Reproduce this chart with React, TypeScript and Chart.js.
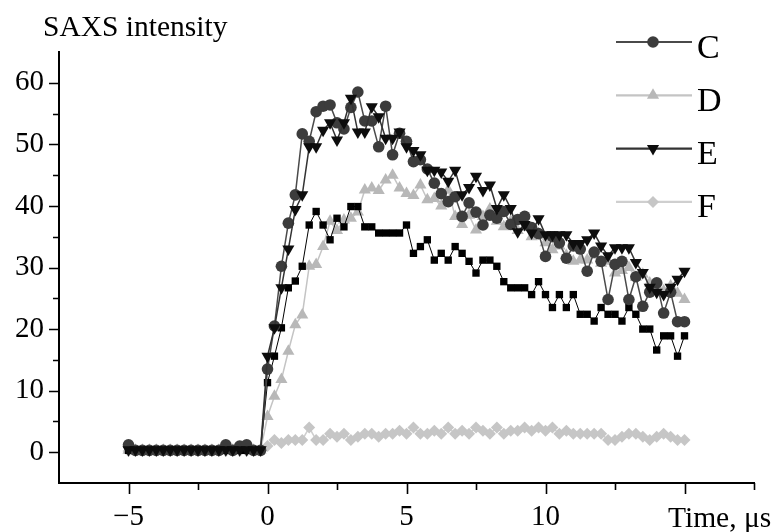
import React, { useEffect, useRef } from 'react';
import { Chart, registerables } from 'chart.js';
import { drawPoint } from 'chart.js/helpers';

Chart.register(...registerables);

const FONT = "'Liberation Serif', 'Times New Roman', Times, serif";

// time axis (µs)
const times = [
  -5, -4.75, -4.5, -4.25, -4, -3.75, -3.5, -3.25, -3, -2.75, -2.5, -2.25, -2, -1.75, -1.5, -1.25, -1, -0.75, -0.5, -0.25,
  0, 0.25, 0.5, 0.75, 1, 1.25, 1.5, 1.75, 2, 2.25, 2.5, 2.75, 3, 3.25, 3.5, 3.75, 4, 4.25, 4.5, 4.75,
  5, 5.25, 5.5, 5.75, 6, 6.25, 6.5, 6.75, 7, 7.25, 7.5, 7.75, 8, 8.25, 8.5, 8.75, 9, 9.25, 9.5, 9.75,
  10, 10.25, 10.5, 10.75, 11, 11.25, 11.5, 11.75, 12, 12.25, 12.5, 12.75, 13, 13.25, 13.5, 13.75, 14, 14.25, 14.5, 14.75, 15,
];

const seriesC = [
  1.2, 0.3, 0.3, 0.3, 0.3, 0.3, 0.3, 0.3, 0.3, 0.3, 0.3, 0.3, 0.3, 0.3, 1.2, 0.3, 1.0, 1.2, 0.3, 0.3,
  13.5, 20.5, 30.2, 37.2, 41.8, 51.7, 50.5, 55.3, 56.2, 56.4, 53.5, 52.5, 56.0, 58.5, 53.8, 53.8, 49.6, 56.2, 48.3, 51.8,
  50.5, 47.2, 47.5, 46.0, 43.7, 42.0, 40.7, 41.5, 38.3, 40.5, 39.0, 36.9, 38.5, 38.0, 39.1, 37.0, 37.8, 38.3, 36.5, 35.5,
  31.8, 35.0, 34.0, 31.5, 33.5, 33.0, 29.4, 32.5, 31.0, 24.8, 30.5, 31.0, 24.8, 28.5, 23.7, 26.0, 27.5, 22.6, 26.0, 21.2, 21.2,
];

const seriesD = [
  0.3, 0.3, 0.3, 0.3, 0.3, 0.3, 0.3, 0.3, 0.3, 0.3, 0.3, 0.3, 0.3, 0.3, 0.3, 0.3, 0.3, 0.3, 0.3, 0.3,
  5.8, 9.1, 11.8, 16.4, 20.7, 22.3, 30.2, 30.5, 33.4, 37.5, 36.0, 37.7, 38.0, 39.0, 42.6, 42.9, 42.5, 44.2, 45.0, 42.9,
  42.0, 41.7, 43.4, 41.0, 41.2, 40.0, 42.6, 38.3, 37.0, 38.5, 36.1, 38.3, 39.5, 37.5, 36.6, 37.5, 36.0, 36.5, 35.0, 35.5,
  34.0, 32.9, 33.5, 32.0, 31.0, 31.2, 31.2, 32.0, 30.7, 31.0, 29.1, 29.5, 30.0, 28.4, 28.9, 27.5, 27.0, 26.2, 27.0, 25.8, 24.8,
];

const seriesE = [
  0.4, 0.4, 0.4, 0.4, 0.4, 0.4, 0.4, 0.4, 0.4, 0.4, 0.4, 0.4, 0.4, 0.4, 0.4, 0.4, 0.4, 0.4, 0.4, 0.4,
  15.6, 20.2, 26.7, 33.0, 39.4, 41.8, 49.6, 49.6, 52.3, 53.5, 50.7, 53.5, 57.5, 52.0, 52.0, 56.1, 54.5, 51.0, 51.0, 52.0,
  49.6, 49.0, 48.3, 45.8, 45.8, 45.5, 44.0, 45.8, 41.8, 43.0, 44.8, 42.5, 43.4, 39.6, 41.8, 39.6, 35.8, 37.0, 35.6, 37.9,
  35.3, 35.3, 35.3, 35.3, 33.9, 33.9, 34.5, 35.6, 33.5, 31.9, 33.2, 33.2, 33.2, 30.8, 29.2, 26.8, 26.0, 25.6, 26.8, 28.1, 29.4,
];

const seriesF = [
  0.2, 0.2, 0.2, 0.2, 0.2, 0.2, 0.2, 0.2, 0.2, 0.2, 0.2, 0.2, 0.2, 0.2, 0.2, 0.2, 0.2, 0.2, 0.2, 0.2,
  1.0, 2.0, 1.5, 2.0, 2.0, 2.0, 4.0, 2.0, 2.0, 3.0, 2.5, 3.0, 2.0, 2.5, 3.0, 3.0, 2.5, 3.0, 3.0, 3.5,
  3.0, 4.0, 3.0, 3.0, 3.5, 3.0, 4.0, 3.0, 3.5, 3.0, 4.0, 3.5, 3.0, 4.0, 3.0, 3.5, 3.5, 4.0, 3.5, 4.0,
  3.5, 4.0, 3.0, 3.5, 3.0, 3.0, 3.0, 3.0, 3.0, 2.0, 2.0, 2.5, 3.0, 3.0, 2.5, 2.0, 2.5, 3.0, 2.5, 2.0, 2.0,
];

// unlabelled black-square series
const seriesSquares = [
  0.3, 0.3, 0.3, 0.3, 0.3, 0.3, 0.3, 0.3, 0.3, 0.3, 0.3, 0.3, 0.3, 0.3, 0.3, 0.3, 0.3, 0.3, 0.3, 0.3,
  11.3, 15.6, 20.2, 26.7, 27.8, 30.2, 36.9, 39.1, 36.9, 34.5, 38.0, 36.6, 39.9, 39.9, 36.6, 36.6, 35.6, 35.6, 35.6, 35.6,
  36.9, 32.3, 33.4, 34.5, 31.2, 32.3, 31.2, 33.4, 32.3, 31.0, 29.1, 31.2, 31.2, 30.2, 27.7, 26.7, 26.7, 26.7, 25.6, 27.7,
  25.6, 23.5, 25.6, 23.5, 25.6, 22.4, 22.4, 21.3, 23.5, 22.4, 22.4, 21.3, 23.5, 22.4, 20.0, 20.0, 16.6, 18.9, 18.9, 15.6, 18.9,
];

const xMajorLabels = [-5, 0, 5, 10];
const yMajorLabels = [0, 10, 20, 30, 40, 50, 60];
const xTickMarks = [-5, -2.5, 0, 2.5, 5, 7.5, 10, 12.5, 15, 17.5];
const yTickMarks = [0, 5, 10, 15, 20, 25, 30, 35, 40, 45, 50, 55, 60];
const legendLabels = ['C', 'D', 'E', 'F'];

const styleC = { line: '#4a4a4a', fill: '#3c3c3c', point: 'circle', rotation: 0, radius: 5.8 };
const styleD = { line: '#c4c4c4', fill: '#b8b8b8', point: 'triangle', rotation: 0, radius: 7 };
const styleE = { line: '#333333', fill: '#0d0d0d', point: 'triangle', rotation: 180, radius: 7 };
const styleF = { line: '#cfcfcf', fill: '#c6c6c6', point: 'rectRot', rotation: 0, radius: 6 };
const styleSq = { line: '#000000', fill: '#000000', point: 'rect', rotation: 0, radius: 5.2 };

const legendStyles = [styleC, styleD, styleE, styleF];

function toPoints(values: number[]) {
  return values.map((v, i) => ({ x: times[i], y: v }));
}

function makeDataset(label: string, values: number[], s: any, lineWidth: number) {
  return {
    label,
    data: toPoints(values),
    borderColor: s.line,
    backgroundColor: s.fill,
    borderWidth: lineWidth,
    pointStyle: s.point,
    pointRotation: s.rotation,
    pointRadius: s.radius,
    pointBackgroundColor: s.fill,
    pointBorderColor: s.fill,
    pointBorderWidth: 0,
    tension: 0,
    fill: false,
  };
}

const overlayPlugin = {
  id: 'overlay',
  afterDraw(chart: any) {
    const ctx = chart.ctx;
    const xs = chart.scales.x;
    const ys = chart.scales.y;
    const area = chart.chartArea;
    ctx.save();
    ctx.strokeStyle = '#000';
    ctx.lineWidth = 1.6;
    ctx.beginPath();
    xTickMarks.forEach((v) => {
      const px = Math.round(xs.getPixelForValue(v)) + 0.5;
      const len = v % 5 === 0 ? 11 : 7;
      ctx.moveTo(px, area.bottom);
      ctx.lineTo(px, area.bottom + len);
    });
    yTickMarks.forEach((v) => {
      const py = Math.round(ys.getPixelForValue(v)) + 0.5;
      const len = v % 10 === 0 ? 10 : 6;
      ctx.moveTo(area.left, py);
      ctx.lineTo(area.left - len, py);
    });
    ctx.stroke();

    ctx.fillStyle = '#000';
    ctx.textAlign = 'left';
    ctx.textBaseline = 'alphabetic';
    ctx.font = `29.5px ${FONT}`;
    ctx.fillText('SAXS intensity', 43, 36);
    ctx.fillText('Time, \u03bcs', 668, 527);

    // legend
    legendLabels.forEach((lab, i) => {
      const s = legendStyles[i];
      const y = 42 + i * 53.3;
      ctx.strokeStyle = s.line;
      ctx.lineWidth = 2.2;
      ctx.beginPath();
      ctx.moveTo(616, y);
      ctx.lineTo(692, y);
      ctx.stroke();
      ctx.fillStyle = s.fill;
      drawPoint(ctx, { pointStyle: s.point, rotation: s.rotation, radius: s.radius, borderWidth: 0 }, 653, y);
      ctx.fillStyle = '#000';
      ctx.font = `34px ${FONT}`;
      ctx.fillText(lab, 697, y + 15.5);
    });
    ctx.restore();
  },
};

export default function App() {
  const ref = useRef<HTMLCanvasElement>(null);
  useEffect(() => {
    const canvas = ref.current;
    if (!canvas) return;
    const chart = new Chart(canvas, {
      type: 'line',
      data: {
        datasets: [
          makeDataset('E', seriesE, styleE, 1.5),
          makeDataset('C', seriesC, styleC, 1.5),
          makeDataset('B', seriesSquares, styleSq, 1),
          makeDataset('D', seriesD, styleD, 1.5),
          makeDataset('F', seriesF, styleF, 1.5),
        ],
      },
      options: {
        responsive: false,
        animation: false,
        devicePixelRatio: 1,
        layout: { padding: { top: 52, right: 5, left: 0, bottom: 0 } },
        plugins: { legend: { display: false }, tooltip: { enabled: false }, title: { display: false } },
        scales: {
          x: {
            type: 'linear',
            min: -7.5,
            max: 17.5,
            border: { display: true, color: '#000', width: 2 },
            grid: { display: true, drawOnChartArea: false, drawTicks: false, color: 'rgba(0,0,0,0)' },
            ticks: {
              stepSize: 2.5,
              autoSkip: false,
              maxRotation: 0,
              padding: 17,
              color: '#000',
              font: { family: FONT, size: 29 },
              callback: (v: any) => (xMajorLabels.includes(Number(v)) ? (Number(v) < 0 ? '\u2212' + Math.abs(Number(v)) : String(v)) : ''),
            },
            afterFit: (scale: any) => {
              scale.height = 49;
            },
          },
          y: {
            type: 'linear',
            min: -5,
            max: 65,
            border: { display: true, color: '#000', width: 2 },
            grid: { display: true, drawOnChartArea: false, drawTicks: false, color: 'rgba(0,0,0,0)' },
            ticks: {
              stepSize: 5,
              autoSkip: false,
              padding: 15,
              color: '#000',
              font: { family: FONT, size: 29 },
              callback: (v: any) => (yMajorLabels.includes(Number(v)) ? String(v) : ''),
            },
            afterFit: (scale: any) => {
              scale.width = 59;
            },
          },
        },
      },
      plugins: [overlayPlugin],
    } as any);
    return () => chart.destroy();
  }, []);
  return (
    <div style={{ position: 'fixed', left: 0, top: 0, width: 771, height: 532, background: '#fff' }}>
      <canvas ref={ref} width={771} height={532} style={{ display: 'block' }} />
    </div>
  );
}
